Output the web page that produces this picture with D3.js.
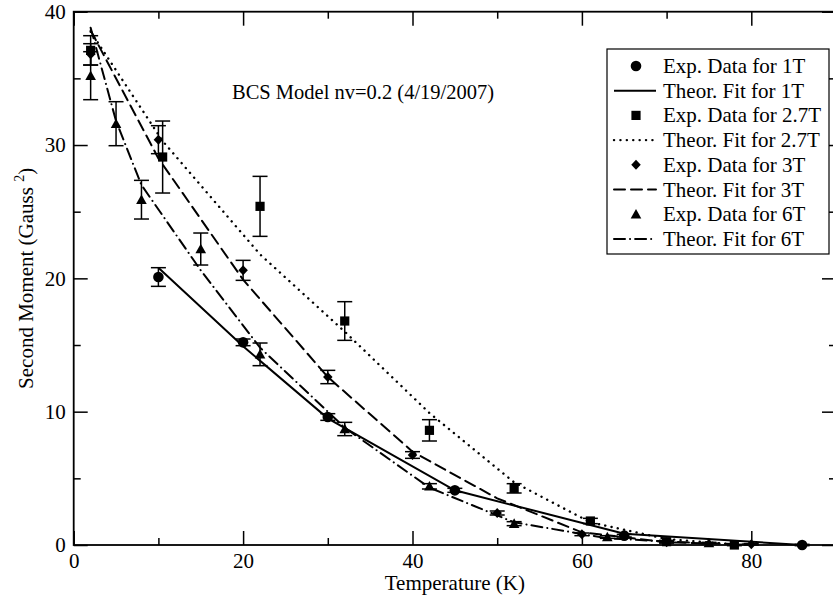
<!DOCTYPE html>
<html>
<head>
<meta charset="utf-8">
<script src="https://cdn.jsdelivr.net/npm/d3@7"></script>
<style>
  html, body { margin: 0; padding: 0; background: #fff; }
  svg { display: block; }
  text { font-family: "Liberation Serif", "DejaVu Serif", serif; fill: #000; }
</style>
</head>
<body>
<svg id="chart" width="833" height="602"></svg>
<script>
// ---------- data ----------
const t1 = [10, 20, 30, 45, 65, 86];
const exp1 = [20.1, 15.2, 9.6, 4.1, 0.7, 0.0];
const err1 = [0.7, 0.25, 0.25, 0.15, 0.1, 0.05];
const fitT1 = [10, 20, 30, 45, 65, 86];
const fit1 = [20.8, 14.9, 9.5, 4.1, 0.85, 0.0];

const t27 = [2, 10.5, 22, 32, 42, 52, 61, 70, 78];
const exp27 = [37.1, 29.1, 25.4, 16.8, 8.6, 4.25, 1.8, 0.25, 0.0];
const err27 = [1.1, 2.7, 2.25, 1.45, 0.8, 0.35, 0.2, 0.1, 0.05];
const fitT27 = [2, 10.5, 22, 32, 42, 52, 61, 70, 78];
const fit27 = [38.5, 30.3, 21.8, 16.0, 9.9, 4.7, 1.7, 0.45, 0.05];

const t3 = [2, 10, 20, 30, 40, 50, 60, 70, 80];
const exp3 = [36.8, 30.4, 20.6, 12.6, 6.75, 2.4, 0.8, 0.2, 0.05];
const err3 = [0.8, 1.05, 0.75, 0.5, 0.25, 0.15, 0.1, 0.05, 0.05];
const fitT3 = [2, 10, 20, 30, 40, 50, 60, 70, 80];
const fit3 = [38.6, 29.0, 19.9, 12.6, 7.0, 3.5, 0.95, 0.2, 0.05];

const t6 = [2, 5, 8, 15, 22, 32, 42, 52, 63, 75];
const exp6 = [35.2, 31.6, 25.9, 22.2, 14.3, 8.7, 4.4, 1.6, 0.6, 0.15];
const err6 = [1.8, 1.65, 1.45, 1.2, 0.85, 0.5, 0.2, 0.15, 0.1, 0.05];
const fitT6 = [2, 5, 8, 15, 22, 32, 42, 52, 63, 75];
const fit6 = [38.8, 31.8, 27.0, 20.6, 14.8, 8.8, 4.3, 1.7, 0.5, 0.1];

const xMajorTicks = [0, 20, 40, 60, 80];
const xMinorTicks = [10, 30, 50, 70, 90];
const yMajorTicks = [0, 10, 20, 30, 40];
const yMinorTicks = [5, 15, 25, 35];

const legendLabels = [
  "Exp. Data for 1T", "Theor. Fit for 1T",
  "Exp. Data for 2.7T", "Theor. Fit for 2.7T",
  "Exp. Data for 3T", "Theor. Fit for 3T",
  "Exp. Data for 6T", "Theor. Fit for 6T"
];
const titleText = "BCS Model nv=0.2 (4/19/2007)";
const xLabel = "Temperature (K)";

// ---------- layout ----------
const svg = d3.select("#chart");
const pL = 73.7, pR = 836, pT = 11.7, pB = 545;
const x = d3.scaleLinear().domain([0, 90]).range([pL, pR]);
const y = d3.scaleLinear().domain([0, 40]).range([pB, pT]);
const FS = 21;

// custom symbols (size = half-width in px)
const symCircle = { draw(c, s) { c.moveTo(s, 0); c.arc(0, 0, s, 0, 2 * Math.PI); } };
const symSquare = { draw(c, s) { c.rect(-s, -s, 2 * s, 2 * s); } };
const symDiamond = { draw(c, s) { c.moveTo(0, -s); c.lineTo(s * 0.95, 0); c.lineTo(0, s); c.lineTo(-s * 0.95, 0); c.closePath(); } };
const symTriangle = { draw(c, s) { c.moveTo(0, -s); c.lineTo(s, s * 0.8); c.lineTo(-s, s * 0.8); c.closePath(); } };

const series = [
  { t: t1, v: exp1, e: err1, ft: fitT1, fv: fit1, sym: symCircle, size: 5.3, dash: null },
  { t: t27, v: exp27, e: err27, ft: fitT27, fv: fit27, sym: symSquare, size: 4.6, dash: "0.1,6.3" },
  { t: t3, v: exp3, e: err3, ft: fitT3, fv: fit3, sym: symDiamond, size: 5.0, dash: "11,6" },
  { t: t6, v: exp6, e: err6, ft: fitT6, fv: fit6, sym: symTriangle, size: 5.3, dash: "11,5,0.1,5" }
];

const plot = svg.append("g");

// fit lines
const line = d3.line().x(d => x(d[0])).y(d => y(d[1]));
series.forEach(s => {
  const pts = s.ft.map((tv, i) => [tv, s.fv[i]]);
  plot.append("path").attr("d", line(pts))
    .attr("fill", "none").attr("stroke", "#000")
    .attr("stroke-width", s.dash && s.dash.startsWith("0.1") ? 2.4 : 2)
    .attr("stroke-linecap", s.dash ? "round" : "butt")
    .attr("stroke-dasharray", s.dash);
});

// error bars
series.forEach(s => {
  const g = plot.append("g");
  s.t.forEach((tv, i) => {
    const cx = x(tv), y1 = y(s.v[i] + s.e[i]), y2 = y(s.v[i] - s.e[i]);
    g.append("line").attr("x1", cx).attr("x2", cx).attr("y1", y1).attr("y2", y2)
      .attr("stroke", "#000").attr("stroke-width", 1.5);
    [y1, y2].forEach(yy => g.append("line").attr("x1", cx - 7.5).attr("x2", cx + 7.5)
      .attr("y1", yy).attr("y2", yy).attr("stroke", "#000").attr("stroke-width", 1.5));
  });
});

// markers
series.forEach(s => {
  const sym = d3.symbol().type(s.sym).size(s.size);
  plot.append("g").selectAll("path").data(s.t.map((tv, i) => [tv, s.v[i]])).join("path")
    .attr("d", sym).attr("transform", d => `translate(${x(d[0])},${y(d[1])})`)
    .attr("fill", "#000");
});

// axes (ticks pointing inward)
const axG = svg.append("g");
function styleAxis(g) {
  g.select(".domain").remove();
  g.selectAll(".tick line").attr("stroke", "#000").attr("stroke-width", 1.5);
  g.selectAll(".tick text").style("font-family", "Liberation Serif, serif").style("font-size", FS + "px").attr("fill", "#000");
}
axG.append("g").attr("transform", `translate(0,${pB})`)
  .call(d3.axisBottom(x).tickValues(xMajorTicks).tickSize(-14).tickPadding(8).tickFormat(d3.format("d")))
  .call(styleAxis);
axG.append("g").attr("transform", `translate(0,${pB})`)
  .call(d3.axisBottom(x).tickValues(xMinorTicks).tickSize(-7).tickFormat(""))
  .call(styleAxis);
axG.append("g").attr("transform", `translate(0,${pT})`)
  .call(d3.axisTop(x).tickValues(xMajorTicks).tickSize(-14).tickFormat(""))
  .call(styleAxis);
axG.append("g").attr("transform", `translate(0,${pT})`)
  .call(d3.axisTop(x).tickValues(xMinorTicks).tickSize(-7).tickFormat(""))
  .call(styleAxis);
axG.append("g").attr("transform", `translate(${pL},0)`)
  .call(d3.axisLeft(y).tickValues(yMajorTicks).tickSize(-14).tickPadding(8).tickFormat(d3.format("d")))
  .call(styleAxis);
axG.append("g").attr("transform", `translate(${pL},0)`)
  .call(d3.axisLeft(y).tickValues(yMinorTicks).tickSize(-7).tickFormat(""))
  .call(styleAxis);
axG.append("g").attr("transform", `translate(${pR},0)`)
  .call(d3.axisRight(y).tickValues(yMajorTicks).tickSize(-14).tickFormat(""))
  .call(styleAxis);
axG.append("g").attr("transform", `translate(${pR},0)`)
  .call(d3.axisRight(y).tickValues(yMinorTicks).tickSize(-7).tickFormat(""))
  .call(styleAxis);

// frame
svg.append("rect").attr("x", pL).attr("y", pT).attr("width", pR - pL).attr("height", pB - pT)
  .attr("fill", "none").attr("stroke", "#000").attr("stroke-width", 1.8);

// axis labels
svg.append("text").attr("x", (pL + pR) / 2).attr("y", 590).attr("text-anchor", "middle")
  .style("font-size", FS + "px").text(xLabel);
const yl = svg.append("text").attr("transform", `translate(33,${(pT + pB) / 2}) rotate(-90)`)
  .attr("text-anchor", "middle").style("font-size", FS + "px");
yl.append("tspan").text("Second Moment (Gauss ");
yl.append("tspan").attr("dy", -9).style("font-size", "14px").text("2");
yl.append("tspan").attr("dy", 9).text(")");

// title
svg.append("text").attr("x", 232).attr("y", 99).style("font-size", "20.5px").text(titleText);

// legend
const lg = svg.append("g");
const lgLeft = 607, lgTop = 49, lgRight = 829, lgBottom = 254;
lg.append("rect").attr("x", lgLeft).attr("y", lgTop).attr("width", lgRight - lgLeft).attr("height", lgBottom - lgTop)
  .attr("fill", "#fff").attr("stroke", "#000").attr("stroke-width", 1.2);
const rowH = 24.7, row0 = 66;
legendLabels.forEach((lab, i) => {
  const cy = row0 + i * rowH;
  const s = series[Math.floor(i / 2)];
  if (i % 2 === 0) {
    lg.append("path").attr("d", d3.symbol().type(s.sym).size(s.size)())
      .attr("transform", `translate(636,${cy})`).attr("fill", "#000");
  } else {
    lg.append("line").attr("x1", 614).attr("x2", 656).attr("y1", cy).attr("y2", cy)
      .attr("stroke", "#000").attr("stroke-width", s.dash && s.dash.startsWith("0.1") ? 2.4 : 2)
      .attr("stroke-linecap", s.dash ? "round" : "butt")
      .attr("stroke-dasharray", s.dash);
  }
  lg.append("text").attr("x", 663).attr("y", cy + 7).style("font-size", FS + "px").text(lab);
});
</script>
</body>
</html>
